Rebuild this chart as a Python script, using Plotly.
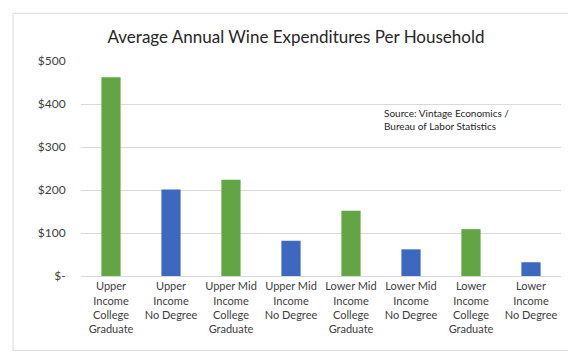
import plotly.graph_objects as go

categories = [
    "Upper<br>Income<br>College<br>Graduate",
    "Upper<br>Income<br>No Degree",
    "Upper Mid<br>Income<br>College<br>Graduate",
    "Upper Mid<br>Income<br>No Degree",
    "Lower Mid<br>Income<br>College<br>Graduate",
    "Lower Mid<br>Income<br>No Degree",
    "Lower<br>Income<br>College<br>Graduate",
    "Lower<br>Income<br>No Degree",
]
values = [462, 201, 224, 82, 152, 62, 109, 32]
bar_colors = ["#63A545", "#3D68BD"] * 4
y_tickvals = [0, 100, 200, 300, 400, 500]
y_ticktext = ["$-", "$100", "$200", "$300", "$400", "$500"]

FONT = "Lato, 'Open Sans', sans-serif"

fig = go.Figure(
    go.Bar(
        x=list(range(len(categories))),
        y=values,
        marker=dict(color=bar_colors, line=dict(width=0)),
        width=0.32,
    )
)

fig.update_layout(
    width=576,
    height=355,
    margin=dict(l=73, r=23, t=53, b=87),
    paper_bgcolor="white",
    plot_bgcolor="white",
    showlegend=False,
    font=dict(family=FONT, color="#404040"),
    title=dict(
        text="Average Annual Wine Expenditures Per Household",
        x=0.5,
        xanchor="center",
        y=1 - 29.5 / 355,
        yanchor="middle",
        xref="container",
        yref="container",
        font=dict(family=FONT, size=17, color="#262626"),
    ),
    xaxis=dict(
        range=[-0.5, 7.5],
        tickvals=list(range(len(categories))),
        ticktext=categories,
        tickfont=dict(size=11, color="#404040"),
        showgrid=False,
        showline=True,
        linecolor="#d9d9d9",
        linewidth=1,
        ticks="",
        fixedrange=True,
    ),
    yaxis=dict(
        range=[0, 500],
        tickvals=y_tickvals,
        ticktext=y_ticktext,
        tickfont=dict(size=12, color="#404040"),
        showgrid=True,
        gridcolor="#d9d9d9",
        gridwidth=1,
        zeroline=False,
        ticks="outside",
        ticklen=12,
        tickcolor="rgba(0,0,0,0)",
        fixedrange=True,
    ),
    annotations=[
        dict(
            text="Source: Vintage Economics /<br>Bureau of Labor Statistics",
            xref="paper",
            yref="paper",
            x=(374 - 73) / 480,
            y=(267.7 - 97) / 215,
            xanchor="left",
            yanchor="top",
            align="left",
            showarrow=False,
            font=dict(family=FONT, size=10, color="#262626"),
        )
    ],
    shapes=[
        dict(
            type="rect",
            xref="paper",
            yref="paper",
            x0=(5 - 73) / 480,
            x1=(569 - 73) / 480,
            y0=(267.7 - 342) / 215,
            y1=(267.7 - 5) / 215,
            line=dict(color="#d9d9d9", width=1),
            layer="below",
        )
    ],
)

fig.write_html("out.html")
